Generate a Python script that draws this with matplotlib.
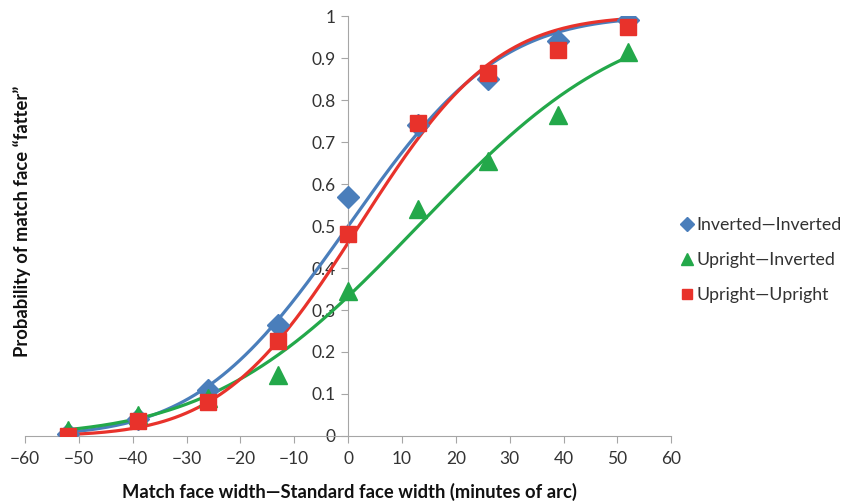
import math
import numpy as np
import matplotlib
matplotlib.use("Agg")
import matplotlib.pyplot as plt
from matplotlib.ticker import FuncFormatter

plt.rcParams['font.family'] = ['Lato', 'DejaVu Sans']

# face width difference (minutes of arc)
widths = [-52, -39, -26, -13, 0, 13, 26, 39, 52]

inv_inv = [0.005, 0.04, 0.11, 0.265, 0.57, 0.74, 0.85, 0.94, 0.99]
up_inv = [0.015, 0.05, 0.09, 0.145, 0.345, 0.54, 0.655, 0.765, 0.915]
up_up = [0.0, 0.035, 0.08, 0.225, 0.48, 0.745, 0.865, 0.92, 0.975]

labels = ["Inverted\u2014Inverted", "Upright\u2014Inverted", "Upright\u2014Upright"]

# cumulative-normal fits (mean, sd)
fit_mu = [0.0, 13.0, 2.0]
fit_sd = [22.0, 30.0, 20.0]

colors = ['#4A7EBB', '#23A84A', '#E8322B']
markers = ['D', '^', 's']
msizes = [11, 13, 12]


def norm_cdf(x, mu, sd):
    return np.array([0.5 * (1 + math.erf((v - mu) / (sd * math.sqrt(2)))) for v in x])


fig = plt.figure(figsize=(8.47, 5.04), dpi=100)
ax = fig.add_axes([0.0295, 0.135, 0.763, 0.833])

xs = np.linspace(widths[0], widths[-1], 200)
series = [inv_inv, up_inv, up_up]
handles = []
for i, ys in enumerate(series):
    ax.plot(xs, norm_cdf(xs, fit_mu[i], fit_sd[i]), color=colors[i], lw=2.3, zorder=2)
    h, = ax.plot(widths, ys, ls='none', marker=markers[i], ms=msizes[i],
                 color=colors[i], mec=colors[i], zorder=3, label=labels[i])
    handles.append(h)

ax.set_xlim(-60, 60)
ax.set_ylim(0, 1)
ax.set_xticks(range(-60, 61, 10))
ax.set_yticks(np.arange(0, 1.01, 0.1))
ax.yaxis.set_major_formatter(FuncFormatter(lambda v, p: '{:g}'.format(round(v, 1))))

for s in ['top', 'right']:
    ax.spines[s].set_visible(False)
ax.spines['left'].set_position(('data', 0))
ax.spines['left'].set_color('#a6a6a6')
ax.spines['bottom'].set_color('#a6a6a6')
ax.tick_params(axis='both', colors='#a6a6a6', labelcolor='#333333',
               labelsize=12.5, length=5, direction='out')
ax.tick_params(axis='x', pad=6)
ax.tick_params(axis='y', pad=4)
ax.patch.set_alpha(0)

fig.text(0.412, 0.023, "Match face width\u2014Standard face width (minutes of arc)",
         ha='center', va='center', fontsize=13.2, fontweight='bold', color='#111111')
fig.text(0.026, 0.56, "Probability of match face \u201cfatter\u201d",
         ha='center', va='center', rotation=90, fontsize=13.2, fontweight='bold', color='#111111')

leg = fig.legend(handles=handles, loc='center left', bbox_to_anchor=(0.806, 0.484),
                 frameon=False, fontsize=12.8, handlelength=0.5, handletextpad=0.25,
                 labelspacing=1.05, markerscale=0.62, borderpad=0, borderaxespad=0)
for t in leg.get_texts():
    t.set_color('#333333')

fig.savefig('out.png', dpi=100)
